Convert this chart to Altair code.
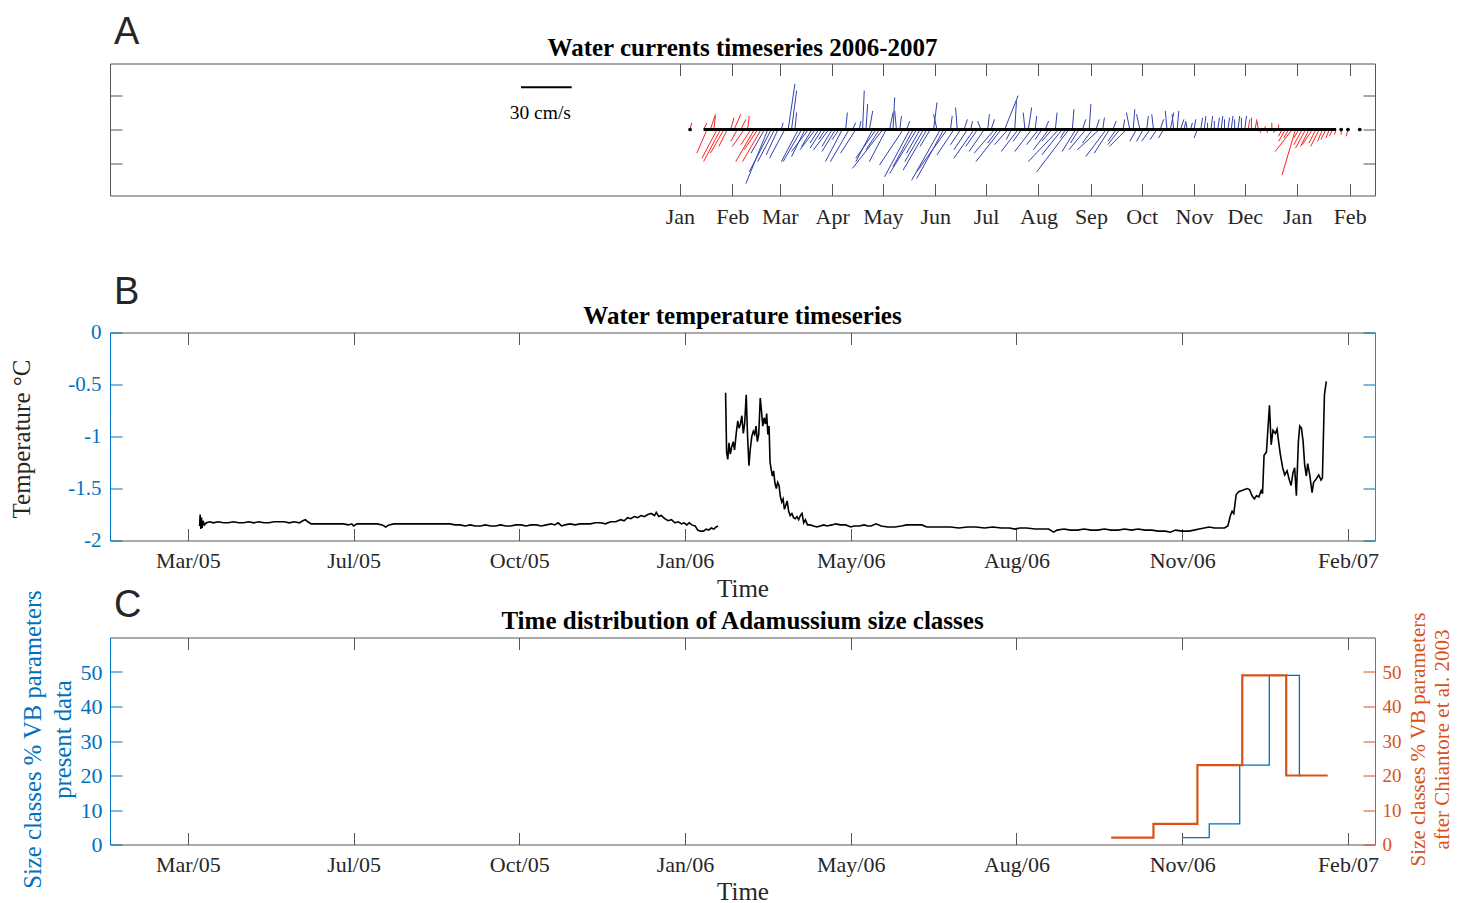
import altair as alt
import pandas as pd

# ---------------- shared time axis: days since 1 Jan 2005 ----------------
x_domain = [28, 776]
month_tick_days = [365, 396, 424, 455, 485, 516, 546, 577, 608, 638, 669, 699, 730, 761]
month_tick_labels = ["Jan", "Feb", "Mar", "Apr", "May", "Jun", "Jul", "Aug",
                     "Sep", "Oct", "Nov", "Dec", "Jan", "Feb"]
date_tick_days = [74, 172, 270, 368, 466, 564, 662, 760]
date_tick_labels = ["Mar/05", "Jul/05", "Oct/05", "Jan/06", "May/06", "Aug/06", "Nov/06", "Feb/07"]

panel_letters = ["A", "B", "C"]
panel_titles = ["Water currents timeseries 2006-2007",
                "Water temperature timeseries",
                "Time distribution of Adamussium size classes"]

# ---------------- panel A: current sticks (u, v in cm/s) ----------------
stick_day = list(range(379, 754, 2))
stick_u = [
    2, -6, 3, 1, -9, -10, -8, -5, 2, 4, -4, 3, -7, 1, -6, -11, -8, -11,
    -8, -13, -13, -10, -7, 1, -9, 4, 3, 1,
    -10, -11, -8, -10, -6, -9, -5, -7, -4, -9,
    -6, -8, -4, -10, 1, -11, 2, -9, 1, 1,
    1, 2, -10, -12, -8, -18, -10, 2, 1, -1,
    1, -14, 2, -15, -12, -16, -8, -11, -14, -6,
    2, -2, -17, -16, -18, 1, -10, -1, -6, 2, -8, 1, -12, -7, -2, -9,
    1, 2, -12, -6, -15, 8, -8, -3, 1, -10, -5, -1, 2, -10, 1,
    -7, -4, 2, -9, -6, 1, -18, -12, -3, -19, 1, -8, -5, 2, -10, 1,
    -6, 2, -13, 1, -12, -9, 2, -5, -7, 1, -10, -2, 1, -4, -2,
    -4, 1, -5, -1, -4, 2, -3, -1, 2, -1, 1, 2, 1, -1, 1,
    1, -2, 1, 1, 0, 1, 0, 1, 1, 0, 1, 1, 0, 1, 0, 1,
    1, 0, 1, -1, -1, 0, -1, 0, -1, 0, -2, -4, -3, -10, -8, -3, -5, -6, -5, -6,
    -4, -5, -3, -3, -2, -2, -1,
]
stick_v = [
    4, -14, 9, 8, -17, -19, -14, -10, 7, 9, -7, 6, -10, 8, -9, -19, -12, -19,
    -14, -32, -25, -19, -15, 4, -17, 27, 23, 10,
    -19, -19, -16, -13, -10, -12, -8, -11, -6, -12,
    -10, -13, -6, -19, 10, -19, 4, -14, 5, 23,
    15, 11, -19, -17, -12, -23, -19, 10, 19, 11,
    8, -21, 5, -28, -22, -26, -14, -19, -24, -10,
    16, 9, -30, -29, -25, 8, -15, 13, -9, 6, -12, 5, -17, -10, 5, -13,
    9, 6, -14, -8, -19, 20, -9, -6, 17, -13, -7, 10, 13, -13, 8,
    -9, -6, 5, -12, -7, 10, -19, -15, -5, -25, 12, -13, -8, 6, -12, 15,
    -8, 6, -12, 7, -16, -14, 5, -7, -9, 6, -10, 10, 12, -7, 9,
    -7, 8, -7, 9, -6, 6, -5, 11, 10, 9, 11, 6, 4, 5, 4,
    6, -5, 7, 8, 4, 8, 5, 7, 8, 6, 7, 8, 6, 8, 7, 8,
    6, 7, 5, 6, -2, 2, -2, 4, -2, 3, -4, -7, -5, -13, -27, -5, -9, -11, -10, -9,
    -8, -10, -7, -6, -5, -4, -3,
]
iso_day = [371, 756, 760, 767]
iso_u = [1, 0, -1, 0]
iso_v = [4, -3, -4, 0]
scale_bar_day = [271]
scale_bar_len = [30]
scale_bar_v = [25]
assert len(stick_day) == len(stick_u) == len(stick_v)

# ---------------- panel B: temperature (deg C) ----------------
temp05_day = [81.0, 81.3, 81.7, 82.1, 82.5, 83.0, 83.8, 85, 87, 89,
              92, 95, 98, 101, 104, 107, 110, 113, 116, 119,
              122, 125, 128, 131, 134, 137, 140, 142, 143.5, 145,
              147, 150, 154, 158, 162, 166, 169, 171, 172, 174,
              178, 182, 186, 189, 191, 193, 196, 200, 205, 210,
              215, 220, 225, 229, 232, 235, 238, 241, 244, 247,
              250, 253, 256, 259, 262, 265, 268, 271, 274, 277,
              280, 283, 286, 289, 291, 293, 295, 297, 300, 303,
              306, 309, 312, 315, 318, 321, 324, 327, 330, 332,
              334, 336, 338, 340, 342, 344, 346, 348, 350, 351,
              352.5, 354, 356, 358, 360, 362, 364, 366, 367.5, 369,
              370.5, 372, 374, 375.5, 377, 379, 380.5, 382, 383.5, 385,
              386.5, 387.5]
temp05_val = [-1.86, -1.75, -1.89, -1.78, -1.88, -1.81, -1.85, -1.83, -1.82, -1.83,
              -1.82, -1.83, -1.83, -1.82, -1.83, -1.83, -1.82, -1.83, -1.82, -1.83,
              -1.83, -1.82, -1.82, -1.82, -1.83, -1.82, -1.83, -1.81, -1.80, -1.82,
              -1.84, -1.84, -1.84, -1.84, -1.84, -1.84, -1.85, -1.84, -1.86, -1.84,
              -1.84, -1.84, -1.84, -1.85, -1.87, -1.85, -1.84, -1.84, -1.84, -1.84,
              -1.84, -1.84, -1.84, -1.84, -1.85, -1.85, -1.86, -1.85, -1.86, -1.86,
              -1.85, -1.86, -1.86, -1.85, -1.86, -1.86, -1.85, -1.85, -1.86, -1.85,
              -1.85, -1.86, -1.85, -1.84, -1.85, -1.83, -1.86, -1.85, -1.84, -1.85,
              -1.84, -1.84, -1.84, -1.83, -1.83, -1.84, -1.82, -1.82, -1.80, -1.81,
              -1.78, -1.79, -1.77, -1.78, -1.76, -1.77, -1.75, -1.74, -1.76, -1.73,
              -1.77, -1.76, -1.79, -1.81, -1.80, -1.83, -1.82, -1.84, -1.83, -1.85,
              -1.83, -1.85, -1.86, -1.90, -1.91, -1.91, -1.89, -1.90, -1.88, -1.89,
              -1.87, -1.86]
temp06_day = [392.0, 392.6, 393.3, 394.0, 394.8, 395.6, 396.5, 397.3, 398.3, 399.2,
              400.0, 400.8, 401.6, 402.5, 403.3, 404.2, 405.0, 405.8, 406.6, 407.5,
              408.4, 409.2, 410.0, 410.8, 411.6, 412.5, 413.2, 414.0, 414.8, 415.6,
              416.3, 417.0, 417.7, 418.3, 419.0, 419.7, 420.4, 421.2, 422.0, 422.8,
              423.6, 424.4, 425.2, 426.0, 426.8, 427.6, 428.4, 429.3, 430.2, 431.2,
              432.2, 433.2, 434.2, 435.2, 436.2, 437.2, 438.2, 439.2, 440.4, 442,
              444, 446, 448, 450, 452, 455, 457, 460, 463, 466,
              468, 471, 474, 476, 478, 481, 484, 488, 492, 496,
              499, 502, 505, 508, 511, 515, 520, 525, 530, 535,
              540, 545, 550, 555, 560, 563, 566, 570, 575, 580,
              583, 586, 588, 592, 596, 600, 604, 608, 612, 616,
              620, 624, 628, 632, 636, 640, 644, 648, 652, 655,
              658, 662, 666, 669, 672, 675, 678, 681, 684, 687,
              689, 690.5, 691.5, 692.5, 693.9, 695.4, 697.4, 700.4, 701.8, 703.3,
              704.7, 705.9, 707.3, 708.7, 709.5, 710.4, 711.8, 713.6, 714.6, 715.7,
              717.1, 718.1, 719.0, 720.0, 721.4, 722.6, 724.0, 725.4, 726.4, 727.5,
              728.5, 729.5, 730.7, 731.5, 732.5, 733.5, 734.4, 735.4, 736.2, 737.4,
              738.8, 739.7, 741.2, 742.7, 744.1, 744.9, 746.1, 747.2]
temp06_val = [-0.58, -1.15, -1.22, -1.06, -1.17, -1.10, -1.05, -1.13, -0.97, -0.85,
              -0.92, -0.88, -0.80, -0.97, -0.87, -0.60, -1.00, -1.28, -1.12, -1.00,
              -0.95, -0.98, -0.90, -1.05, -0.98, -0.63, -0.75, -0.90, -0.82, -0.88,
              -0.78, -0.98, -0.90, -1.25, -1.32, -1.38, -1.33, -1.45, -1.50, -1.44,
              -1.47, -1.58, -1.63, -1.60, -1.70, -1.66, -1.62, -1.72, -1.76, -1.74,
              -1.78, -1.79, -1.77, -1.80, -1.76, -1.74, -1.83, -1.80, -1.85, -1.85,
              -1.86, -1.87, -1.86, -1.85, -1.86, -1.85, -1.84, -1.85, -1.85, -1.87,
              -1.86, -1.86, -1.85, -1.86, -1.86, -1.84, -1.86, -1.87, -1.87, -1.86,
              -1.85, -1.85, -1.85, -1.85, -1.87, -1.87, -1.87, -1.87, -1.88, -1.87,
              -1.87, -1.88, -1.87, -1.88, -1.88, -1.89, -1.88, -1.88, -1.89, -1.89,
              -1.89, -1.92, -1.90, -1.89, -1.90, -1.90, -1.89, -1.90, -1.90, -1.89,
              -1.90, -1.90, -1.89, -1.90, -1.89, -1.90, -1.90, -1.91, -1.91, -1.92,
              -1.90, -1.91, -1.91, -1.90, -1.89, -1.88, -1.87, -1.88, -1.88, -1.88,
              -1.86, -1.76, -1.72, -1.74, -1.56, -1.53, -1.52, -1.50, -1.51, -1.57,
              -1.60, -1.57, -1.58, -1.52, -1.55, -1.18, -1.15, -0.70, -1.08, -0.94,
              -0.97, -0.93, -1.05, -1.17, -1.30, -1.37, -1.33, -1.42, -1.47, -1.35,
              -1.30, -1.57, -1.05, -0.90, -0.92, -1.05, -1.27, -1.38, -1.26, -1.37,
              -1.54, -1.44, -1.41, -1.37, -1.42, -1.40, -0.60, -0.47]
assert len(temp05_day) == len(temp05_val) and len(temp06_day) == len(temp06_val)
temp_ticks = [-2, -1.5, -1, -0.5, 0]

# ---------------- panel C: size classes (%) ----------------
present_day = [662, 678, 696, 713.5, 731.3, 732]
present_val = [2, 6, 23, 49, 20, 20]
chiantore_day = [620, 645, 671, 697.5, 723.5, 748]
chiantore_val = [2, 6, 23, 49, 20, 20]
size_ticks = [0, 10, 20, 30, 40, 50]

# ---------------- styling ----------------
FONT = "Liberation Serif"
GRAY = "#555555"
INK = "#262626"
BLUE = "#0072BD"
ORANGE = "#D95319"
RED = "#ff1f1f"
NAVY = "#3341ad"
TICK = 12
W = 1265
A_H, B_H, C_H = 132, 208, 207
A_DOM, B_DOM, C_DOM = [-39, 39], [-2, 0], [0, 60]


def xs():
    return alt.Scale(domain=x_domain, nice=False, zero=False)


def ys(dom):
    return alt.Scale(domain=dom, nice=False, zero=False)


def label_expr(values, labels):
    vals = ",".join(str(v) for v in values)
    labs = ",".join("'" + l + "'" for l in labels)
    return "[" + labs + "][indexof([" + vals + "], datum.value)]"


def tick_axis(orient, values, color=GRAY):
    return alt.Axis(orient=orient, values=values, offset=-TICK, tickSize=TICK,
                    ticks=True, labels=False, domain=False, grid=False,
                    title=None, tickColor=color, tickWidth=1)


def carrier(xaxis, yaxis, ydom):
    df = pd.DataFrame({"cx": [x_domain[0]], "cy": [ydom[0]]})
    return alt.Chart(df).mark_point(opacity=0, size=1).encode(
        x=alt.X("cx:Q", scale=xs(), axis=xaxis),
        y=alt.Y("cy:Q", scale=ys(ydom), axis=yaxis),
    )


def panel_text(i, letter_y, title_y):
    df = pd.DataFrame({"letter": [panel_letters[i]], "title": [panel_titles[i]]})
    letter = alt.Chart(df).mark_text(font="Liberation Sans", fontSize=38, align="left",
                                     baseline="alphabetic", color=INK).encode(
        text="letter:N", x=alt.value(4), y=alt.value(letter_y))
    title = alt.Chart(df).mark_text(font=FONT, fontSize=25, fontWeight="bold", align="center",
                                    baseline="alphabetic", color="black").encode(
        text="title:N", x=alt.value(W / 2), y=alt.value(title_y))
    return [letter, title]


def date_label_axis(title_pad):
    return alt.Axis(orient="bottom", values=date_tick_days,
                    labelExpr=label_expr(date_tick_days, date_tick_labels),
                    ticks=False, domain=False, labelPadding=10, title="Time",
                    titlePadding=title_pad)


# ---------------- panel A ----------------
sticks_df = pd.DataFrame({"day": stick_day + iso_day, "u": stick_u + iso_u, "v": stick_v + iso_v})
a_sticks = alt.Chart(sticks_df).transform_calculate(
    x_end="datum.day + datum.u", y0="0",
    col=f"(datum.day < 415 || datum.day > 700) ? '{RED}' : '{NAVY}'",
).mark_rule(strokeWidth=1).encode(
    x=alt.X("day:Q", scale=xs(), axis=alt.Axis(
        orient="bottom", values=month_tick_days,
        labelExpr=label_expr(month_tick_days, month_tick_labels),
        ticks=False, domain=False, labelPadding=11,
        title="Time", titleOpacity=0, titlePadding=35)),
    x2="x_end:Q",
    y=alt.Y("y0:Q", scale=ys(A_DOM), axis=None),
    y2="v:Q",
    color=alt.Color("col:N", scale=None),
)
a_base = alt.Chart(pd.DataFrame({"day": stick_day})).transform_aggregate(
    d0="min(day)", d1="max(day)"
).transform_calculate(y0="0").mark_rule(color="black", strokeWidth=3).encode(
    x=alt.X("d0:Q", scale=xs(), axis=None), x2="d1:Q",
    y=alt.Y("y0:Q", scale=ys(A_DOM), axis=None),
)
a_dots = alt.Chart(pd.DataFrame({"day": iso_day})).transform_calculate(y0="0").mark_circle(
    size=14, color="black", opacity=1).encode(
    x=alt.X("day:Q", scale=xs(), axis=None),
    y=alt.Y("y0:Q", scale=ys(A_DOM), axis=None),
)
bar_df = pd.DataFrame({"d0": scale_bar_day, "len": scale_bar_len, "v": scale_bar_v})
a_bar = alt.Chart(bar_df).transform_calculate(d1="datum.d0 + datum.len").mark_rule(
    color="black", strokeWidth=2).encode(
    x=alt.X("d0:Q", scale=xs(), axis=None), x2="d1:Q",
    y=alt.Y("v:Q", scale=ys(A_DOM), axis=None),
)
a_bar_text = alt.Chart(bar_df).transform_calculate(
    mid="datum.d0 + datum.len / 2", lab="datum.len + ' cm/s'"
).mark_text(font=FONT, fontSize=19.5, baseline="alphabetic", align="center", dy=32, dx=-6,
            color="black").encode(
    x=alt.X("mid:Q", scale=xs(), axis=None),
    y=alt.Y("v:Q", scale=ys(A_DOM), axis=None),
    text="lab:N",
)
pA = alt.layer(
    a_sticks, a_base, a_dots, a_bar, a_bar_text,
    carrier(tick_axis("bottom", month_tick_days), tick_axis("left", [-20, 0, 20]), A_DOM),
    carrier(tick_axis("top", month_tick_days), tick_axis("right", [-20, 0, 20]), A_DOM),
    *panel_text(0, -19.6, -7.5),
).resolve_axis(x="independent", y="independent").properties(width=W, height=A_H)

# ---------------- panel B ----------------
temp_df = pd.concat([
    pd.DataFrame({"day": temp05_day, "T": temp05_val, "dep": "2005"}),
    pd.DataFrame({"day": temp06_day, "T": temp06_val, "dep": "2006"}),
])
b_line = alt.Chart(temp_df).mark_line(color="black", strokeWidth=1.6).encode(
    x=alt.X("day:Q", scale=xs(), axis=date_label_axis(4.5)),
    y=alt.Y("T:Q", scale=ys(B_DOM), axis=alt.Axis(
        orient="left", values=temp_ticks, labelExpr="toString(datum.value)",
        ticks=False, domain=True, domainColor=BLUE, labelColor=BLUE, labelPadding=9,
        labelFontSize=21,
        title="Temperature °C", titleX=-89, titleY=106, titleAngle=270,
        titleBaseline="middle", titleFontSize=25)),
    detail="dep:N",
)
right_domain = alt.Axis(orient="right", domain=True, domainColor=ORANGE, ticks=False,
                        labels=False, grid=False, title=None)
pB = alt.layer(
    b_line,
    carrier(tick_axis("bottom", date_tick_days), tick_axis("left", temp_ticks, BLUE), B_DOM),
    carrier(tick_axis("top", date_tick_days), tick_axis("right", temp_ticks, BLUE), B_DOM),
    carrier(None, right_domain, B_DOM),
    *panel_text(1, -29, -9),
).resolve_axis(x="independent", y="independent").properties(width=W, height=B_H)

# ---------------- panel C ----------------
c_blue = alt.Chart(pd.DataFrame({"day": present_day, "pct": present_val})).mark_line(
    interpolate="step-after", color=BLUE, strokeWidth=1.3).encode(
    x=alt.X("day:Q", scale=xs(), axis=date_label_axis(4)),
    y=alt.Y("pct:Q", scale=ys(C_DOM), axis=alt.Axis(
        orient="left", values=size_ticks, ticks=False, domain=True, domainColor=BLUE,
        labelColor=BLUE, labelFontSize=22, labelPadding=8,
        title=["Size classes % VB parameters", "present data"], titleColor=BLUE,
        titleFontSize=24.7, titleLineHeight=30, titleX=-77, titleY=101.5,
        titleAngle=270, titleBaseline="middle")),
)
c_orange = alt.Chart(pd.DataFrame({"day": chiantore_day, "pct": chiantore_val})).mark_line(
    interpolate="step-after", color=ORANGE, strokeWidth=2.2).encode(
    x=alt.X("day:Q", scale=xs(), axis=None),
    y=alt.Y("pct:Q", scale=ys(C_DOM), axis=alt.Axis(
        orient="right", values=size_ticks, ticks=False, domain=True, domainColor=ORANGE,
        labelColor=ORANGE, labelFontSize=19, labelPadding=7,
        title=["Size classes % VB parameters", "after Chiantore et al. 2003"],
        titleColor=ORANGE, titleFontSize=21, titleLineHeight=24, titleX=43, titleY=101.5,
        titleAngle=270, titleBaseline="middle")),
)
pC = alt.layer(
    c_blue, c_orange,
    carrier(tick_axis("bottom", date_tick_days), tick_axis("left", size_ticks, BLUE), C_DOM),
    carrier(tick_axis("top", date_tick_days), tick_axis("right", size_ticks, ORANGE), C_DOM),
    *panel_text(2, -21, -9),
).resolve_axis(x="independent", y="independent").properties(width=W, height=C_H)

chart = alt.vconcat(pA, pB, pC, spacing=-16).properties(
    padding={"left": 0, "top": 4.5, "right": 0, "bottom": 0},
    background="white",
).configure_view(stroke=GRAY, strokeWidth=1).configure_axis(
    labelFont=FONT, titleFont=FONT, labelFontSize=22, titleFontSize=25,
    titleFontWeight="normal", labelColor=INK, titleColor=INK, tickColor=GRAY,
    domainColor=GRAY, grid=False, labelFlush=False, labelOverlap=False,
)

chart.save("out.html", embed_options={"renderer": "svg", "actions": False})
